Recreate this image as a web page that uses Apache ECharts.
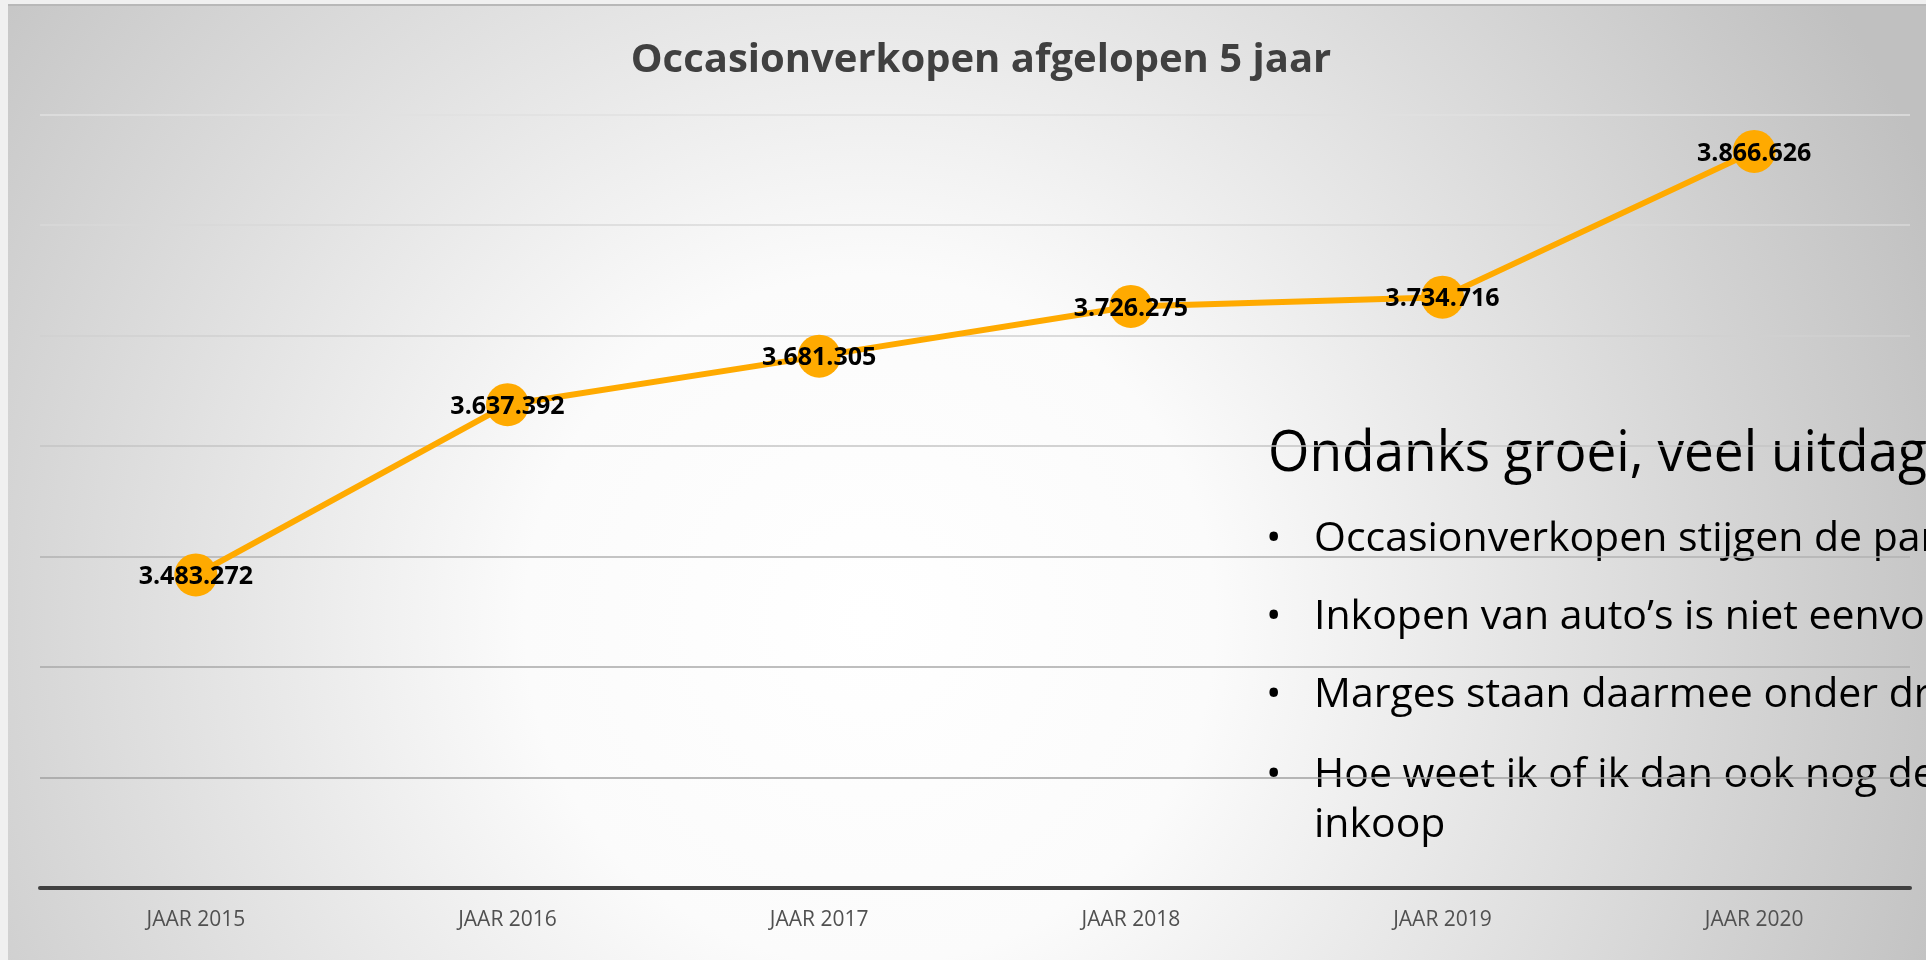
<!DOCTYPE html>
<html>
<head>
<meta charset="utf-8">
<title>Occasionverkopen afgelopen 5 jaar</title>
<script src="https://cdn.jsdelivr.net/npm/echarts@6/dist/echarts.min.js"></script>
<style>
    html, body { margin: 0; padding: 0; background: #f0f0f0; }
    #occasion_chart { width: 1926px; height: 960px; }
</style>
</head>
<body>
<div id="occasion_chart"></div>
<script>
// data
var years = ['JAAR 2015', 'JAAR 2016', 'JAAR 2017', 'JAAR 2018', 'JAAR 2019', 'JAAR 2020'];
var verkopen = [3483272, 3637392, 3681305, 3726275, 3734716, 3866626];
var yMin = 3200000;
var yMax = 3900000;
var yStep = 100000;

// tekstvak rechts
var boxTitle = 'Ondanks groei, veel uitdagingen';
var boxBullets = [
    'Occasionverkopen stijgen de pan uit',
    'Inkopen van auto’s is niet eenvoudig',
    'Marges staan daarmee onder druk',
    'Hoe weet ik of ik dan ook nog de juiste prijs betaal bij'
];
var boxLastLine = 'inkoop';

function nlFormat(v) {
    return String(v).replace(/\B(?=(\d{3})+(?!\d))/g, '.');
}

var chart = echarts.init(document.getElementById('occasion_chart'));

var textFont = '"Open Sans", "Noto Sans", sans-serif';
var graphics = [
    {
        type: 'rect',
        z: -10,
        shape: { x: 8, y: 5, width: 1918, height: 955 },
        style: {
            fill: {
                type: 'radial', x: 870, y: 620, r: 1150, global: true,
                colorStops: [
                    { offset: 0, color: '#ffffff' },
                    { offset: 0.3, color: '#fbfbfb' },
                    { offset: 1, color: '#c0c0c0' }
                ]
            }
        }
    },
    {
        type: 'line',
        z: -9,
        shape: { x1: 8, y1: 5, x2: 1926, y2: 5 },
        style: { stroke: '#b8b8b8', lineWidth: 2 }
    },
    {
        type: 'text',
        z: -5,
        x: 1268, y: 455,
        scaleX: 0.95,
        style: { text: boxTitle, fill: '#000', font: '56px ' + textFont, verticalAlign: 'middle' }
    }
];
var lineY = [539, 617, 695, 775];
boxBullets.forEach(function (t, i) {
    graphics.push({
        type: 'text', z: -5, x: 1266, y: lineY[i],
        style: { text: '•', fill: '#000', font: '41px ' + textFont, verticalAlign: 'middle' }
    });
    graphics.push({
        type: 'text', z: -5, x: 1314, y: lineY[i],
        style: { text: t, fill: '#000', font: '41px ' + textFont, verticalAlign: 'middle' }
    });
});
graphics.push({
    type: 'text', z: -5, x: 1314, y: 825,
    style: { text: boxLastLine, fill: '#000', font: '41px ' + textFont, verticalAlign: 'middle' }
});

chart.setOption({
    animation: false,
    backgroundColor: 'transparent',
    title: {
        text: 'Occasionverkopen afgelopen 5 jaar',
        left: 976,
        textAlign: 'center',
        top: 36,
        textStyle: {
            color: '#404040',
            fontSize: 40,
            fontWeight: 'bold',
            fontFamily: textFont
        }
    },
    graphic: graphics,
    grid: {
        left: 40,
        right: 16,
        top: 114.5,
        bottom: 72
    },
    xAxis: {
        type: 'category',
        data: years,
        boundaryGap: true,
        axisLine: { lineStyle: { color: '#404040', width: 4 } },
        axisTick: { show: false },
        axisLabel: {
            color: '#505050',
            fontSize: 21,
            fontFamily: textFont,
            margin: 22
        }
    },
    yAxis: {
        type: 'value',
        min: yMin,
        max: yMax,
        interval: yStep,
        axisLabel: { show: false },
        axisLine: { show: false },
        axisTick: { show: false },
        splitLine: {
            lineStyle: {
                width: 1.5,
                color: ['#999999', '#a0a0a0', '#a8a8a8', '#b2b2b2', '#c4c4c4', '#d0d0d0', '#d9d9d9', '#e0e0e0']
            }
        }
    },
    series: [
        {
            name: 'Occasionverkopen',
            type: 'line',
            data: verkopen,
            symbol: 'circle',
            symbolSize: 43,
            lineStyle: { color: '#ffaa00', width: 6 },
            itemStyle: { color: '#ffaa00' },
            label: {
                show: true,
                position: 'inside',
                offset: [0, 2],
                color: '#000',
                fontSize: 25,
                fontWeight: 'bold',
                fontFamily: textFont,
                formatter: function (p) { return nlFormat(p.value); }
            }
        }
    ]
});

window.addEventListener('resize', function () {
    chart.resize();
});
</script>
</body>
</html>
